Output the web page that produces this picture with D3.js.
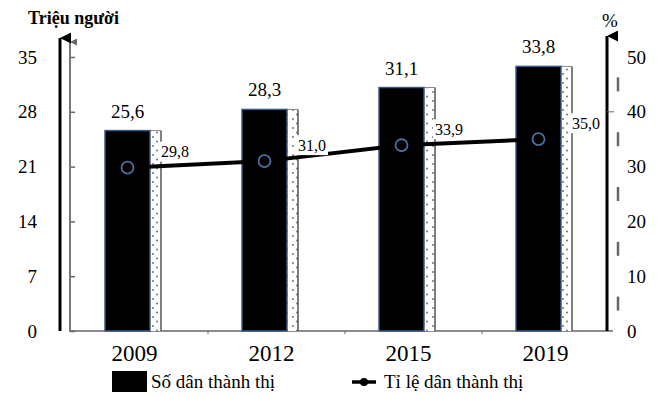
<!DOCTYPE html>
<html>
<head>
<meta charset="utf-8">
<script src="https://cdn.jsdelivr.net/npm/d3@7"></script>
<style>
  html, body { margin: 0; padding: 0; background: #fff; }
  svg { display: block; }
  svg text { font-family: "Liberation Serif", "Times New Roman", serif !important; }
</style>
</head>
<body>
<svg id="chart" width="670" height="397"></svg>
<script>
// data
const years = ['2009', '2012', '2015', '2019'];
const urbanPop = [25.6, 28.3, 31.1, 33.8];   // triệu người
const urbanRate = [29.8, 31.0, 33.9, 35.0];  // %
const leftTicks = [0, 7, 14, 21, 28, 35];
const rightTicks = [0, 10, 20, 30, 40, 50];
const legendLabels = ['Số dân thành thị', 'Tỉ lệ dân thành thị'];

const svg = d3.select('svg#chart');
const fmt = v => d3.format('.1f')(v).replace('.', ',');

const x = d3.scaleBand().domain(years).range([71, 619]).padding(0);
const yL = d3.scaleLinear().domain([0, 35]).range([331, 57]);
const yR = d3.scaleLinear().domain([0, 50]).range([331, 57]);

// bar placement inside each band
const barOff = 34, barW = 45, shadowW = 11;
const barCx = d => x(d) + barOff + barW / 2;

// defs: dotted fill + arrowheads
const defs = svg.append('defs');
const pat = defs.append('pattern')
  .attr('id', 'dots')
  .attr('patternUnits', 'userSpaceOnUse')
  .attr('width', 10).attr('height', 9);
pat.append('rect').attr('width', 10).attr('height', 9).attr('fill', '#fff');
pat.append('circle').attr('cx', 3).attr('cy', 2).attr('r', 0.9).attr('fill', '#666');
pat.append('circle').attr('cx', 7).attr('cy', 6.5).attr('r', 0.9).attr('fill', '#666');

const arrow = (id, col, s) => defs.append('marker')
  .attr('id', id)
  .attr('viewBox', '0 0 10 10')
  .attr('refX', 5).attr('refY', 0)
  .attr('markerUnits', 'userSpaceOnUse')
  .attr('markerWidth', s).attr('markerHeight', s)
  .attr('orient', 'auto-start-reverse')
  .append('path').attr('d', 'M0,10L5,0L10,10Z').attr('fill', col);
arrow('arrBlack', '#000', 11);
arrow('arrGray', '#666', 7);

// baseline + band ticks
svg.append('line')
  .attr('x1', x.range()[0] - 2).attr('x2', x.range()[1] - 6)
  .attr('y1', yL(0)).attr('y2', yL(0))
  .attr('stroke', '#666').attr('stroke-width', 1.5);
svg.selectAll('.bandTick')
  .data(years.slice(1))
  .join('line')
  .attr('x1', d => x(d)).attr('x2', d => x(d))
  .attr('y1', yL(0)).attr('y2', yL(0) + 3)
  .attr('stroke', '#666');

// left thin gray axis with ticks and labels
const gL = svg.append('g')
  .attr('transform', `translate(${x.range()[0] - 1},0)`)
  .call(d3.axisLeft(yL).tickValues(leftTicks).tickSize(-5).tickPadding(33));
gL.select('.domain').remove();
gL.selectAll('.tick line').attr('stroke', '#666').attr('stroke-width', 1.5);
gL.selectAll('.tick text').attr('font-size', 19).attr('fill', '#000');
svg.append('line')
  .attr('x1', x.range()[0] - 1).attr('x2', x.range()[0] - 1)
  .attr('y1', yL(0)).attr('y2', yL(35) - 15)
  .attr('stroke', '#777').attr('stroke-width', 2)
  .attr('marker-end', 'url(#arrGray)');

// left thick black axis
svg.append('line')
  .attr('x1', 60).attr('x2', 60)
  .attr('y1', yL(0)).attr('y2', yL(35) - 19)
  .attr('stroke', '#000').attr('stroke-width', 3)
  .attr('marker-end', 'url(#arrBlack)');

// right axis
const gR = svg.append('g')
  .attr('transform', 'translate(607,0)')
  .call(d3.axisRight(yR).tickValues(rightTicks).tickSize(0).tickPadding(20));
gR.select('.domain').remove();
gR.selectAll('.tick text').attr('font-size', 19).attr('fill', '#000');
svg.append('line')
  .attr('x1', 607).attr('x2', 607)
  .attr('y1', yR(0)).attr('y2', yR(50) - 21)
  .attr('stroke', '#000').attr('stroke-width', 3)
  .attr('marker-end', 'url(#arrBlack)');
// gray dashes between right ticks
svg.selectAll('.rDash')
  .data(d3.pairs(rightTicks).map(p => (p[0] + p[1]) / 2))
  .join('line')
  .attr('x1', 618).attr('x2', 618)
  .attr('y1', d => yR(d) - 7).attr('y2', d => yR(d) + 7)
  .attr('stroke', '#666').attr('stroke-width', 2.5);
svg.append('line')
  .attr('x1', 607).attr('x2', 614)
  .attr('y1', yR(40)).attr('y2', yR(40))
  .attr('stroke', '#4a6fa5').attr('stroke-width', 1);

// dotted shadow bars
const shadow = svg.selectAll('.shadow')
  .data(years)
  .join('g');
shadow.append('rect')
  .attr('x', d => x(d) + barOff + barW)
  .attr('y', (d, i) => yL(urbanPop[i]))
  .attr('width', shadowW)
  .attr('height', (d, i) => yL(0) - yL(urbanPop[i]))
  .attr('fill', 'url(#dots)');
shadow.append('line')
  .attr('x1', d => x(d) + barOff + barW + shadowW)
  .attr('x2', d => x(d) + barOff + barW + shadowW)
  .attr('y1', (d, i) => yL(urbanPop[i]))
  .attr('y2', yL(0))
  .attr('stroke', '#555').attr('stroke-width', 1.5);
shadow.append('line')
  .attr('x1', d => x(d) + barOff + barW)
  .attr('x2', d => x(d) + barOff + barW + shadowW)
  .attr('y1', (d, i) => yL(urbanPop[i]))
  .attr('y2', (d, i) => yL(urbanPop[i]))
  .attr('stroke', '#888').attr('stroke-width', 1);

// black bars
svg.selectAll('.bar')
  .data(years)
  .join('rect')
  .attr('x', d => x(d) + barOff)
  .attr('y', (d, i) => yL(urbanPop[i]))
  .attr('width', barW)
  .attr('height', (d, i) => yL(0) - yL(urbanPop[i]))
  .attr('fill', '#000')
  .attr('stroke', '#3b5785').attr('stroke-width', 1.5);

// bar values
svg.selectAll('.barVal')
  .data(years)
  .join('text')
  .attr('x', d => barCx(d))
  .attr('y', (d, i) => yL(urbanPop[i]) - 13)
  .attr('text-anchor', 'middle')
  .attr('font-size', 19)
  .text((d, i) => fmt(urbanPop[i]));

// rate line
const line = d3.line()
  .x((d, i) => barCx(years[i]))
  .y(d => yR(d));
svg.append('path')
  .datum(urbanRate)
  .attr('d', line)
  .attr('fill', 'none')
  .attr('stroke', '#000').attr('stroke-width', 4);
svg.selectAll('.pt')
  .data(urbanRate)
  .join('circle')
  .attr('cx', (d, i) => barCx(years[i]))
  .attr('cy', d => yR(d))
  .attr('r', 6)
  .attr('fill', '#000')
  .attr('stroke', '#4a6fa5').attr('stroke-width', 1.8);

// rate labels with white backing
const rl = svg.selectAll('.rateLbl')
  .data(urbanRate)
  .join('g')
  .attr('transform', (d, i) => `translate(${x(years[i]) + 90},${yR(d) - 16})`);
rl.append('rect')
  .attr('x', -2).attr('y', -10).attr('width', 32).attr('height', 20)
  .attr('fill', '#fff');
rl.append('text')
  .attr('dy', '0.35em')
  .attr('font-size', 16)
  .text(d => fmt(d));

// year labels
svg.selectAll('.year')
  .data(years)
  .join('text')
  .attr('x', d => x(d) + x.bandwidth() / 2 - 5)
  .attr('y', 361)
  .attr('text-anchor', 'middle')
  .attr('font-size', 23)
  .text(d => d);

// axis titles
svg.append('text')
  .attr('x', 28).attr('y', 24)
  .attr('font-size', 18).attr('font-weight', 'bold')
  .text('Triệu người');
svg.append('text')
  .attr('x', 602).attr('y', 27)
  .attr('font-size', 19)
  .text('%');

// legend
svg.append('rect')
  .attr('x', 112).attr('y', 371).attr('width', 35).attr('height', 21)
  .attr('fill', '#000');
svg.append('text')
  .attr('x', 151).attr('y', 388)
  .attr('font-size', 19)
  .text(legendLabels[0]);
svg.append('line')
  .attr('x1', 352).attr('x2', 376).attr('y1', 382).attr('y2', 382)
  .attr('stroke', '#000').attr('stroke-width', 3.5);
svg.append('circle')
  .attr('cx', 364).attr('cy', 382).attr('r', 4)
  .attr('fill', '#000');
svg.append('text')
  .attr('x', 384).attr('y', 388)
  .attr('font-size', 19)
  .text(legendLabels[1]);
</script>
</body>
</html>
